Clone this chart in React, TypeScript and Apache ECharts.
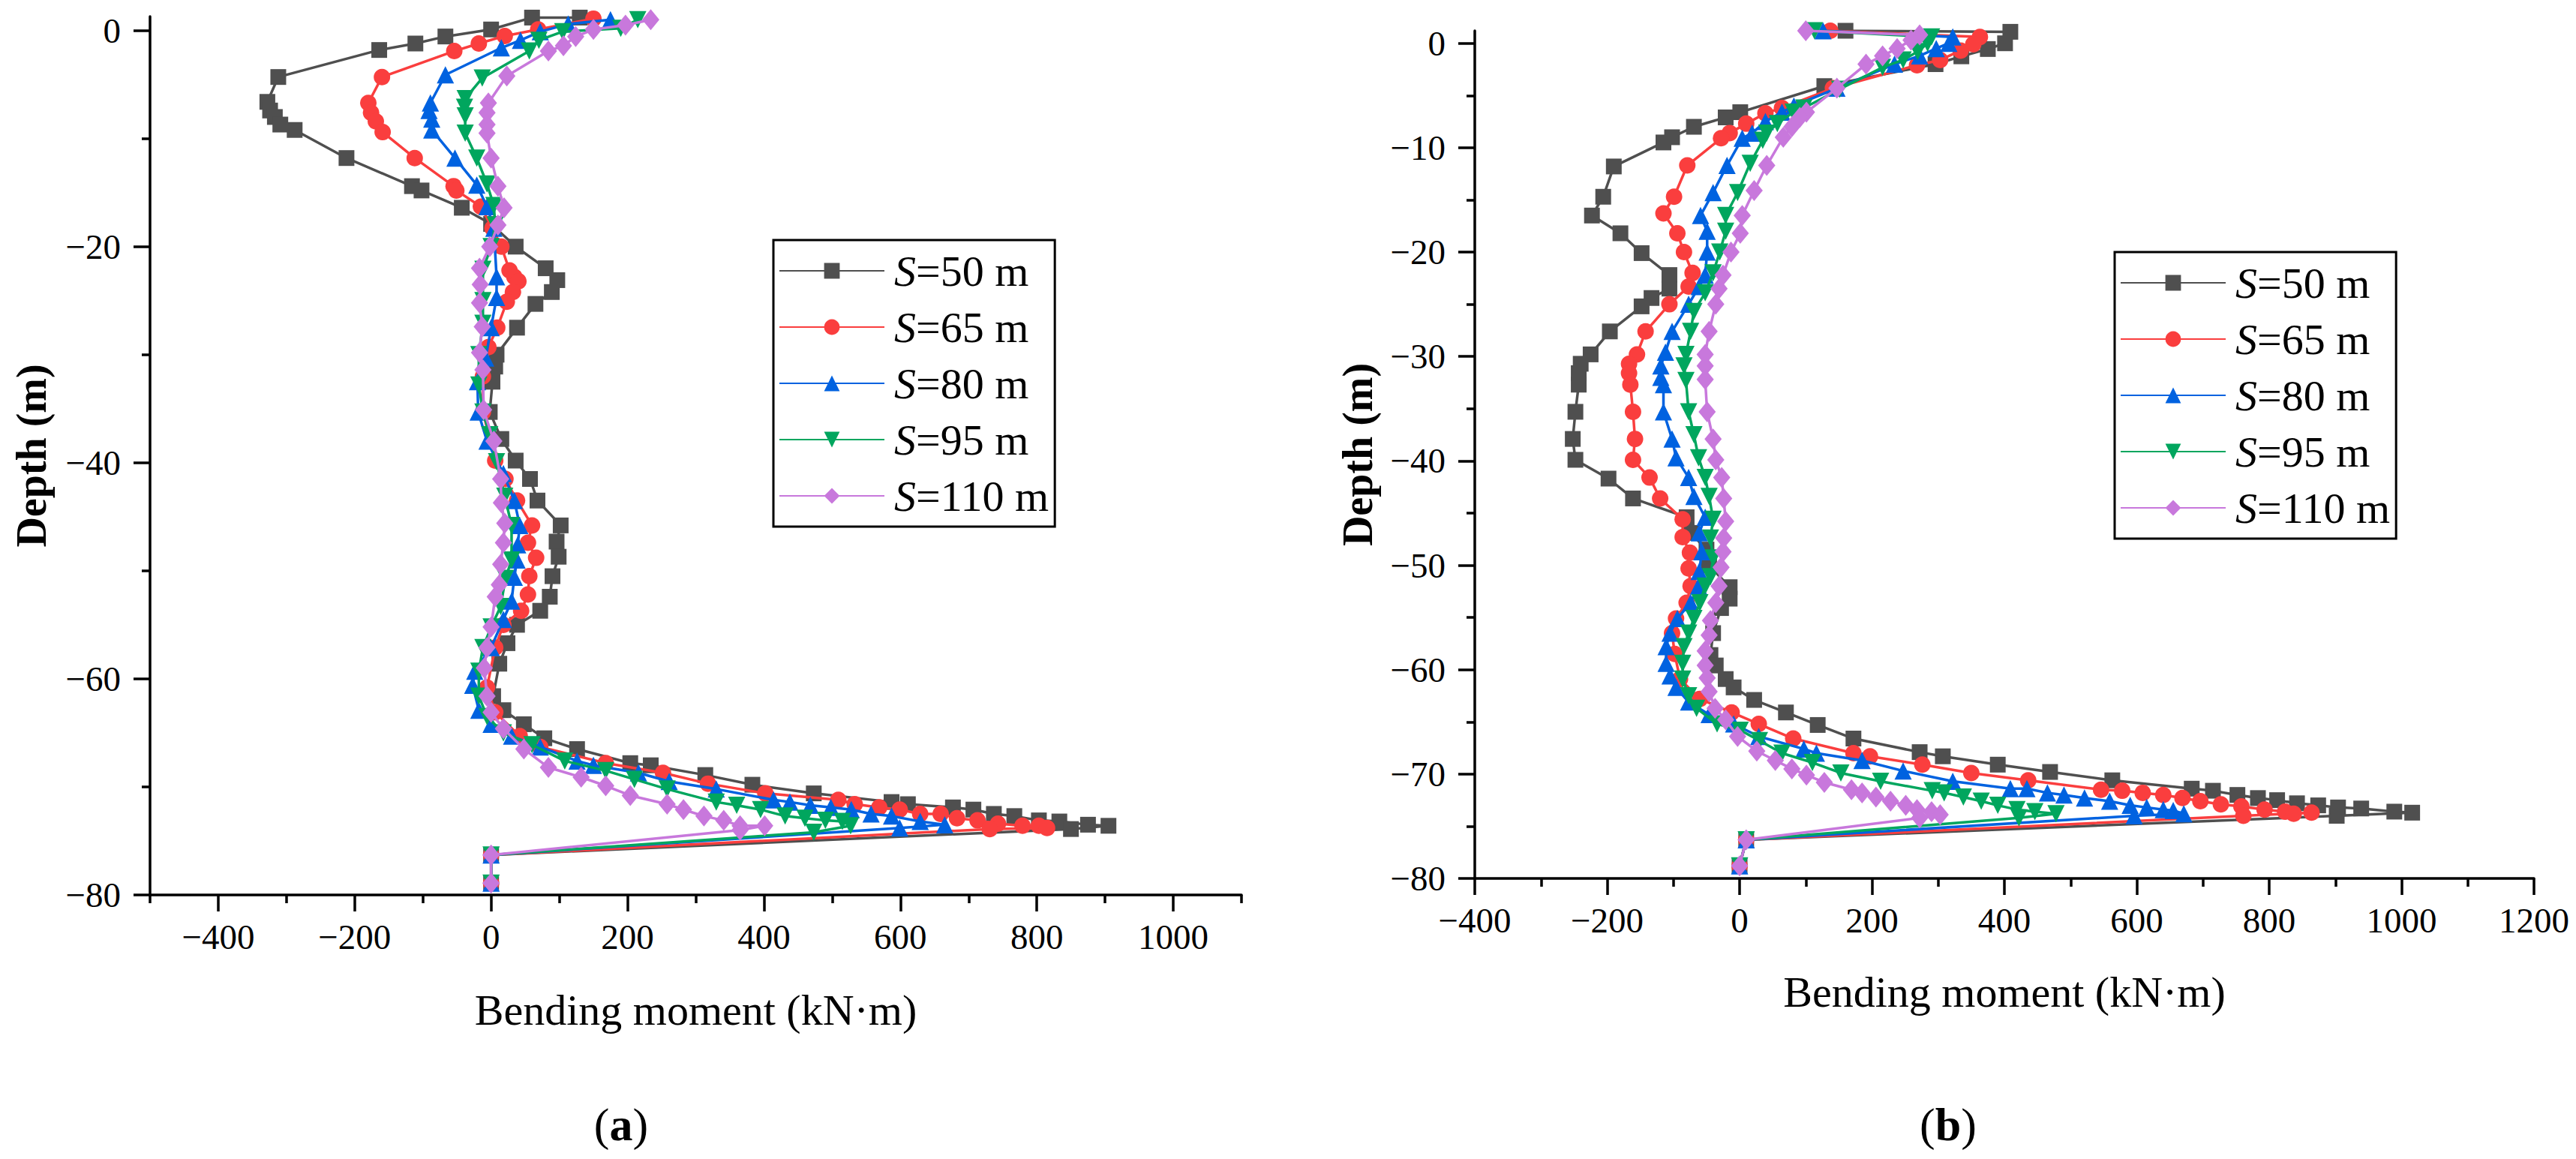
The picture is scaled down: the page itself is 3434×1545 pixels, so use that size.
import React, { useEffect, useRef } from 'react';
import * as echarts from 'echarts';

const FONT = "'Liberation Serif', 'Times New Roman', serif";
const NAMES = ['S=50 m', 'S=65 m', 'S=80 m', 'S=95 m', 'S=110 m'];
const COLORS = ['#4f4f4f', '#fa3e3e', '#0062e0', '#00a65e', '#c878dc'];

// tick values
const xMajorA = [-400, -200, 0, 200, 400, 600, 800, 1000];
const xMinorA = [-500, -300, -100, 100, 300, 500, 700, 900, 1100];
const yMajorA = [-80, -60, -40, -20, 0];
const yMinorA = [-70, -50, -30, -10];
const xMajorB = [-400, -200, 0, 200, 400, 600, 800, 1000, 1200];
const xMinorB = [-300, -100, 100, 300, 500, 700, 900, 1100];
const yMajorB = [-80, -70, -60, -50, -40, -30, -20, -10, 0];
const yMinorB = [-75, -65, -55, -45, -35, -25, -15, -5];

// (a) [moment, depth]
const a50 = [
  [130, 1.2], [60, 1.2], [0, 0.1], [-67, -0.55], [-111, -1.2], [-164, -1.8], [-312, -4.3], [-328, -6.6],
  [-324, -7.4], [-317, -8.0], [-309, -8.7], [-288, -9.2], [-212, -11.8], [-116, -14.4], [-102, -14.8],
  [-43, -16.4], [0, -17.9], [36, -20.0], [80, -22.0], [97, -23.1], [89, -24.2], [65, -25.3], [38, -27.5],
  [8, -30.0], [6, -31.1], [2, -32.5], [-2, -35.3], [15, -37.8], [36, -39.8], [57, -41.5], [68, -43.5],
  [102, -45.8], [96, -47.3], [99, -48.7], [90, -50.5], [86, -52.4], [72, -53.7], [38, -55.0], [24, -56.7],
  [12, -58.6], [3, -61.6], [18, -62.9], [48, -64.2], [78, -65.5], [126, -66.5], [204, -67.8], [234, -68.0],
  [314, -68.9], [383, -69.8], [473, -70.6], [587, -71.4], [611, -71.6], [677, -71.9], [707, -72.1],
  [737, -72.5], [767, -72.7], [803, -73.1], [833, -73.2], [875, -73.5], [905, -73.6], [850, -73.9],
  [0, -76.3], [0, -78.9],
];
const a65 = [
  [150, 1.1], [69, 0.1], [20, -0.5], [-18, -1.2], [-54, -1.9], [-160, -4.3], [-180, -6.7], [-176, -7.6],
  [-169, -8.4], [-159, -9.4], [-112, -11.8], [-55, -14.4], [-51, -14.8], [-15, -16.3], [2, -18.3],
  [15, -20.0], [27, -22.2], [34, -22.8], [40, -23.2], [32, -24.2], [23, -25.1], [9, -27.5], [-4, -29.3],
  [-12, -32.0], [-12, -35.3], [6, -39.8], [21, -41.5], [38, -43.5], [60, -45.8], [54, -47.4], [66, -48.8],
  [56, -50.5], [54, -52.2], [44, -53.7], [18, -55.0], [6, -57.1], [-6, -60.8], [6, -63.1], [42, -65.3],
  [72, -66.3], [168, -67.8], [252, -68.7], [318, -69.7], [402, -70.6], [509, -71.2], [533, -71.6],
  [569, -71.9], [599, -72.1], [629, -72.5], [659, -72.5], [683, -72.9], [713, -73.1], [743, -73.4],
  [779, -73.6], [803, -73.6], [815, -73.8], [731, -73.9], [0, -76.3], [0, -78.9],
];
const a80 = [
  [175, 1.0], [113, 0.6], [72, -0.1], [43, -0.9], [15, -1.6], [-67, -4.1], [-89, -6.7], [-91, -7.4],
  [-87, -8.2], [-87, -9.2], [-53, -11.8], [-21, -14.3], [-6, -16.3], [4, -18.3], [8, -22.8], [8, -24.7],
  [0, -27.5], [-8, -30.3], [-20, -32.5], [-19, -35.3], [-6, -38.0], [18, -41.0], [34, -43.5], [42, -45.8],
  [39, -47.6], [38, -49.0], [34, -50.6], [30, -52.8], [18, -54.5], [0, -57.1], [-24, -59.3], [-27, -60.6],
  [-18, -62.9], [0, -64.2], [30, -65.3], [72, -66.3], [126, -67.6], [150, -68.0], [216, -68.7],
  [261, -69.5], [330, -70.2], [414, -71.2], [438, -71.4], [468, -71.7], [498, -71.9], [528, -72.1],
  [557, -72.5], [587, -72.7], [629, -73.2], [665, -73.5], [599, -73.8], [0, -76.3], [0, -78.9],
];
const a95 = [
  [215, 1.0], [190, 0.2], [105, -0.1], [70, -0.9], [56, -1.9], [-13, -4.4], [-38, -6.3], [-39, -7.1],
  [-38, -7.9], [-38, -9.5], [-21, -11.8], [-6, -14.2], [4, -16.2], [6, -18.0], [0, -20.0], [-12, -22.1],
  [-12, -25.0], [-12, -27.1], [-18, -30.0], [-18, -32.8], [-12, -35.3], [-2, -37.4], [8, -39.9],
  [20, -43.1], [30, -45.8], [30, -49.0], [21, -50.7], [14, -53.3], [0, -55.2], [-12, -57.1], [-18, -59.3],
  [-18, -61.6], [-6, -63.5], [18, -65.0], [60, -66.1], [108, -67.6], [168, -68.5], [210, -69.3],
  [258, -70.2], [330, -71.4], [360, -71.7], [395, -72.1], [431, -72.7], [460, -72.9], [490, -73.1],
  [515, -73.2], [527, -73.6], [473, -74.2], [0, -76.3], [0, -78.9],
];
const a110 = [
  [234, 1.0], [197, 0.5], [150, 0.1], [124, -0.55], [106, -1.4], [84, -1.9], [23, -4.2], [-4, -6.7],
  [-6, -7.6], [-6, -8.7], [-6, -9.5], [0, -11.8], [10, -14.4], [19, -16.4], [10, -18.0], [-2, -20.0],
  [-17, -22.0], [-16, -23.5], [-17, -25.2], [-13, -27.4], [-17, -29.8], [-12, -31.4], [-11, -35.1],
  [4, -38.0], [14, -41.5], [15, -43.7], [20, -45.6], [18, -47.4], [14, -49.4], [12, -51.3], [6, -52.4],
  [0, -55.2], [-6, -57.1], [-10, -59.0], [-6, -61.6], [0, -63.1], [18, -64.6], [48, -66.5], [84, -68.2],
  [132, -69.1], [168, -69.9], [204, -70.8], [258, -71.6], [282, -72.1], [312, -72.7], [341, -73.1],
  [365, -73.6], [401, -73.6], [365, -74.0], [0, -76.3], [0, -78.9],
];

// (b) [moment, depth]
const b50 = [
  [160, 1.2], [409, 1.1], [401, 0.0], [375, -0.55], [335, -1.25], [296, -2.0], [128, -4.1], [1, -6.6],
  [-21, -7.1], [-69, -8.0], [-102, -9.0], [-115, -9.5], [-190, -11.8], [-206, -14.7], [-223, -16.5],
  [-180, -18.2], [-148, -20.1], [-106, -22.2], [-106, -23.5], [-133, -24.4], [-148, -25.2], [-196, -27.6],
  [-225, -29.8], [-240, -30.7], [-243, -31.6], [-243, -32.7], [-248, -35.3], [-252, -37.9], [-248, -39.9],
  [-198, -41.7], [-161, -43.6], [-80, -45.4], [-74, -46.9], [-50, -48.5], [-46, -50.0], [-15, -52.1],
  [-15, -53.2], [-28, -54.1], [-40, -56.5], [-44, -58.6], [-36, -59.6], [-21, -60.9], [-9, -61.7],
  [22, -62.9], [70, -64.1], [118, -65.3], [172, -66.6], [272, -67.9], [307, -68.3], [390, -69.1],
  [469, -69.8], [563, -70.6], [683, -71.4], [715, -71.6], [752, -72.0], [783, -72.3], [812, -72.5],
  [842, -72.8], [874, -73.0], [904, -73.2], [939, -73.3], [989, -73.6], [1016, -73.7], [902, -74.0],
  [10, -76.3], [0, -78.8],
];
const b65 = [
  [137, 1.2], [363, 0.6], [353, -0.1], [334, -0.7], [303, -1.6], [268, -2.1], [141, -4.3], [64, -6.2],
  [39, -6.7], [10, -7.7], [-15, -8.6], [-28, -9.1], [-79, -11.7], [-99, -14.7], [-115, -16.3],
  [-94, -18.2], [-84, -20.0], [-71, -22.0], [-77, -23.3], [-106, -25.0], [-142, -27.6], [-155, -29.8],
  [-167, -30.7], [-167, -31.6], [-165, -32.7], [-161, -35.3], [-158, -37.9], [-161, -39.9], [-136, -41.6],
  [-120, -43.6], [-86, -45.6], [-86, -47.3], [-75, -48.8], [-77, -50.3], [-74, -52.0], [-80, -53.6],
  [-96, -55.1], [-102, -56.5], [-98, -58.5], [-90, -60.9], [-60, -62.8], [-12, -64.1], [29, -65.2],
  [81, -66.6], [172, -68.0], [197, -68.3], [276, -69.1], [350, -69.9], [436, -70.6], [546, -71.5],
  [578, -71.6], [609, -71.8], [640, -72.0], [669, -72.3], [696, -72.6], [727, -72.9], [758, -73.1],
  [793, -73.4], [824, -73.6], [837, -73.8], [864, -73.7], [761, -74.0], [10, -76.3], [0, -78.8],
];
const b80 = [
  [126, 1.2], [322, 0.6], [316, 0.0], [297, -0.5], [272, -1.2], [234, -2.0], [147, -4.3], [82, -6.0],
  [64, -6.6], [39, -7.5], [19, -8.6], [4, -9.1], [-19, -11.7], [-40, -14.3], [-59, -16.5], [-49, -18.0],
  [-49, -20.0], [-52, -22.2], [-61, -23.3], [-77, -25.0], [-102, -27.6], [-112, -29.6], [-119, -30.9],
  [-119, -32.0], [-115, -32.7], [-115, -35.3], [-102, -37.9], [-96, -39.7], [-77, -41.6], [-69, -43.4],
  [-52, -45.4], [-61, -46.9], [-57, -48.7], [-61, -50.6], [-62, -52.0], [-74, -53.6], [-94, -55.1],
  [-105, -56.5], [-111, -57.8], [-111, -59.4], [-105, -60.6], [-96, -61.7], [-77, -63.1], [-46, -64.3],
  [-9, -65.2], [29, -66.4], [97, -67.6], [116, -68.0], [185, -68.7], [247, -69.7], [322, -70.7],
  [409, -71.4], [434, -71.4], [465, -71.8], [490, -72.0], [521, -72.3], [559, -72.6], [590, -73.0],
  [615, -73.2], [640, -73.4], [655, -73.5], [671, -73.8], [596, -74.0], [10, -76.3], [0, -78.8],
];
const b95 = [
  [113, 1.2], [290, 0.6], [284, 0.0], [269, -0.8], [247, -1.6], [216, -2.3], [151, -4.4], [97, -6.2],
  [81, -6.6], [57, -7.7], [41, -8.6], [35, -9.3], [16, -11.5], [-3, -14.3], [-21, -16.5], [-21, -18.0],
  [-30, -20.0], [-40, -22.0], [-52, -23.9], [-69, -25.7], [-74, -27.6], [-81, -29.8], [-84, -30.9],
  [-81, -32.3], [-77, -35.3], [-69, -37.5], [-62, -39.7], [-52, -41.6], [-46, -43.4], [-40, -45.6],
  [-44, -47.4], [-40, -49.3], [-44, -51.1], [-52, -52.0], [-60, -53.6], [-69, -55.1], [-77, -56.5],
  [-84, -57.8], [-86, -59.4], [-86, -60.9], [-77, -62.5], [-65, -63.7], [-34, -65.2], [1, -65.8],
  [30, -66.8], [64, -68.0], [110, -68.9], [153, -69.9], [213, -70.7], [291, -71.6], [309, -71.8],
  [338, -72.2], [365, -72.6], [390, -73.0], [419, -73.4], [446, -73.6], [478, -73.8], [422, -74.2],
  [10, -76.3], [0, -78.8],
];
const b110 = [
  [100, 1.2], [272, 0.8], [259, 0.3], [238, -0.5], [216, -1.2], [191, -2.0], [147, -4.3], [101, -6.6],
  [91, -7.1], [79, -8.0], [66, -9.0], [41, -11.7], [22, -14.1], [4, -16.5], [1, -18.2], [-13, -20.0],
  [-25, -22.2], [-31, -23.5], [-36, -25.0], [-46, -27.6], [-52, -29.8], [-52, -30.9], [-52, -32.2],
  [-49, -35.3], [-40, -37.9], [-36, -39.9], [-27, -41.6], [-24, -43.6], [-21, -45.8], [-24, -47.4],
  [-25, -48.7], [-28, -50.2], [-31, -52.0], [-36, -53.6], [-44, -55.3], [-46, -56.7], [-52, -58.2],
  [-52, -59.6], [-49, -60.8], [-46, -62.1], [-37, -63.7], [-21, -64.8], [-3, -66.4], [26, -67.8],
  [54, -68.7], [79, -69.5], [101, -70.1], [128, -70.8], [169, -71.5], [185, -71.8], [206, -72.2],
  [228, -72.6], [251, -73.0], [268, -73.4], [290, -73.6], [303, -73.9], [272, -74.2], [10, -76.3],
  [0, -78.8],
];

const SYMBOLS = ['rect', 'circle', 'triangle', 'path://M0,0L20,0L10,17Z', 'diamond'];
const SIZES: any[] = [21, 22, 23, 23, [23, 28]];

const fmt = (v: number) => (v < 0 ? '\u2212' + Math.abs(v) : String(v));

function xAxes(gridIndex: number, min: number, max: number, major: number[], minor: number[], nameGap: number) {
  return [
    {
      type: 'value', gridIndex, min, max, position: 'bottom',
      name: 'Bending moment (kN\u00b7m)', nameLocation: 'middle', nameGap,
      nameTextStyle: { fontFamily: FONT, fontSize: 58, color: '#000' },
      axisLine: { show: true, onZero: false, lineStyle: { color: '#000', width: 3.5 } },
      axisTick: { show: true, customValues: major, length: 22, lineStyle: { color: '#000', width: 3.5 } },
      axisLabel: { customValues: major, formatter: fmt, fontFamily: FONT, fontSize: 47, color: '#000', margin: 32 },
      splitLine: { show: false },
    },
    {
      type: 'value', gridIndex, min, max, position: 'bottom',
      axisLine: { show: false, onZero: false },
      axisTick: { show: true, customValues: minor, length: 11, lineStyle: { color: '#000', width: 3.5 } },
      axisLabel: { show: false },
      splitLine: { show: false },
    },
  ];
}

function yAxes(gridIndex: number, max: number, major: number[], minor: number[], nameGap: number) {
  return [
    {
      type: 'value', gridIndex, min: -80, max, position: 'left',
      name: 'Depth (m)', nameLocation: 'middle', nameGap,
      nameTextStyle: { fontFamily: FONT, fontSize: 56, fontWeight: 'bold', color: '#000' },
      axisLine: { show: true, onZero: false, lineStyle: { color: '#000', width: 3.5 } },
      axisTick: { show: true, customValues: major, length: 22, lineStyle: { color: '#000', width: 3.5 } },
      axisLabel: { customValues: major, formatter: fmt, fontFamily: FONT, fontSize: 47, color: '#000', margin: 39 },
      splitLine: { show: false },
    },
    {
      type: 'value', gridIndex, min: -80, max, position: 'left',
      axisLine: { show: false, onZero: false },
      axisTick: { show: true, customValues: minor, length: 11, lineStyle: { color: '#000', width: 3.5 } },
      axisLabel: { show: false },
      splitLine: { show: false },
    },
  ];
}

function lines(data: number[][][], axisIndex: number) {
  return data.map((d, i) => ({
    type: 'line',
    name: NAMES[i],
    xAxisIndex: axisIndex,
    yAxisIndex: axisIndex,
    data: d,
    symbol: SYMBOLS[i],
    symbolSize: SIZES[i],
    lineStyle: { color: COLORS[i], width: 3.5 },
    itemStyle: { color: COLORS[i] },
    z: 2 + i,
  }));
}

function legend(left: number, top: number) {
  return {
    left, top, orient: 'vertical',
    data: NAMES,
    borderColor: '#000', borderWidth: 3, padding: [12, 8, 12, 7],
    itemGap: 17, itemWidth: 140, itemHeight: 26,
    formatter: (n: string) => '{i|S}' + n.slice(1),
    textStyle: {
      fontFamily: FONT, fontSize: 58, color: '#000', padding: [0, 0, 0, 8],
      rich: { i: { fontFamily: FONT, fontSize: 58, fontStyle: 'italic', color: '#000' } },
    },
  };
}

function panelLabel(x: number, letter: string) {
  return {
    type: 'text', x, y: 1499,
    style: {
      text: '({b|' + letter + '})', fontFamily: FONT, fontSize: 62, fill: '#000',
      align: 'center', verticalAlign: 'middle', textAlign: 'center', textVerticalAlign: 'middle',
      rich: { b: { fontFamily: FONT, fontSize: 62, fontWeight: 'bold', fill: '#000' } },
    },
  };
}

export default function App() {
  const ref = useRef<HTMLDivElement>(null);
  useEffect(() => {
    if (!ref.current) return;
    const chart = echarts.init(ref.current, null, { renderer: 'svg' });
    chart.setOption({
      animation: false,
      backgroundColor: '#fff',
      grid: [
        { left: 200, top: 22, width: 1455, height: 1171 },
        { left: 1966, top: 41, width: 1412, height: 1130 },
      ],
      xAxis: [
        ...xAxes(0, -500, 1100, xMajorA, xMinorA, 124),
        ...xAxes(1, -400, 1200, xMajorB, xMinorB, 122),
      ],
      yAxis: [
        ...yAxes(0, 1.3, yMajorA, yMinorA, 130),
        ...yAxes(1, 1.2, yMajorB, yMinorB, 128),
      ],
      legend: [legend(1031, 320), legend(2819, 336)],
      series: [...lines([a50, a65, a80, a95, a110], 0), ...lines([b50, b65, b80, b95, b110], 2)],
      graphic: [panelLabel(828, 'a'), panelLabel(2597, 'b')],
    });
    return () => chart.dispose();
  }, []);
  return (
    <div
      ref={ref}
      style={{ position: 'fixed', left: 0, top: 0, width: 3434, height: 1545, background: '#fff' }}
    />
  );
}
